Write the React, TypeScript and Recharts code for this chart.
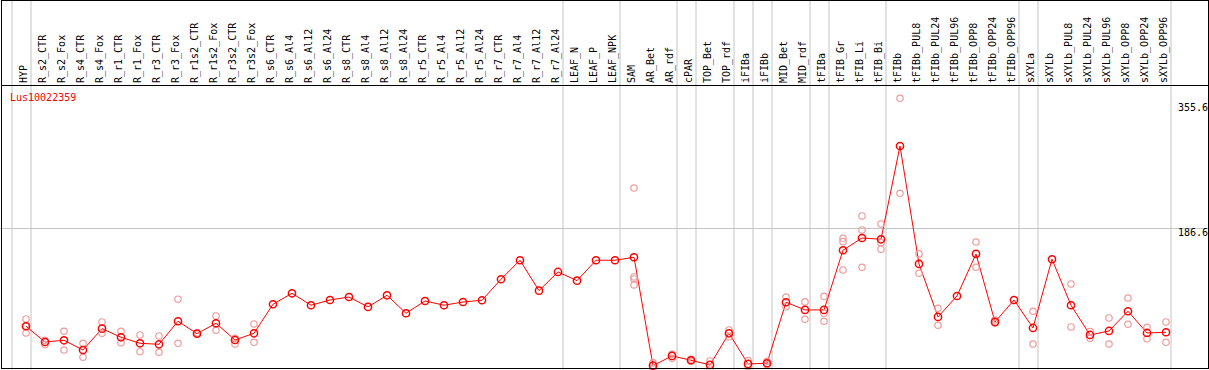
import React from 'react';
import { ComposedChart, Line, XAxis, YAxis, ReferenceLine } from 'recharts';

const geneId = 'Lus10022359';

const categories = [
  'HYP', 'R_s2_CTR', 'R_s2_Fox', 'R_s4_CTR', 'R_s4_Fox', 'R_r1_CTR', 'R_r1_Fox', 'R_r3_CTR', 'R_r3_Fox',
  'R_r1s2_CTR', 'R_r1s2_Fox', 'R_r3s2_CTR', 'R_r3s2_Fox', 'R_s6_CTR', 'R_s6_Al4', 'R_s6_Al12', 'R_s6_Al24',
  'R_s8_CTR', 'R_s8_Al4', 'R_s8_Al12', 'R_s8_Al24', 'R_r5_CTR', 'R_r5_Al4', 'R_r5_Al12', 'R_r5_Al24',
  'R_r7_CTR', 'R_r7_Al4', 'R_r7_Al12', 'R_r7_Al24', 'LEAF_N', 'LEAF_P', 'LEAF_NPK', 'SAM', 'AR_Bet', 'AR_rdf',
  'cPAR', 'TOP_Bet', 'TOP_rdf', 'iFIBa', 'iFIBb', 'MID_Bet', 'MID_rdf', 'tFIBa', 'tFIB_Gr', 'tFIB_Li', 'tFIB_Bi',
  'tFIBb', 'tFIBb_PUL8', 'tFIBb_PUL24', 'tFIBb_PUL96', 'tFIBb_OPP8', 'tFIBb_OPP24', 'tFIBb_OPP96', 'sXYLa',
  'sXYLb', 'sXYLb_PUL8', 'sXYLb_PUL24', 'sXYLb_PUL96', 'sXYLb_OPP8', 'sXYLb_OPP24', 'sXYLb_OPP96',
];

// mean expression per sample
const means = [
  59.7, 39.3, 41.5, 28.9, 56.6, 45.4, 37.6, 36.3, 66.2, 50.1, 63.6, 41.9, 50.6, 88.3, 102.5, 87,
  93.8, 97.7, 84.8, 99.9, 76.6, 92.5, 87, 91.2, 93.5, 120.7, 145.4, 105.9, 130.2, 118.9, 145.4, 145.4,
  149.3, 8.6, 21.2, 15.6, 9.5, 50.6, 10.8, 11.7, 90.9, 80.9, 80.9, 158.4, 174.3, 172.6,
  293.7, 140.6, 71.8, 99, 153.6, 65.3, 93.8, 57.5, 146.7, 87, 48.4, 53.6, 79.2, 51, 51.9,
];

// individual replicates (only those visible apart from the mean)
const replicates: number[][] = [
  [69.2, 60.1, 51], [41.5, 36.1], [53.2, 28.9], [37.6, 19.5], [65.3, 50.6], [53.2, 38.4], [48.4, 26.7],
  [47.1, 26], [94.8, 37.6], [51, 49.7], [73.1, 54.5], [44.1, 36.7], [62.7, 38.9],
  [], [], [], [], [], [], [], [], [], [], [], [], [], [], [], [], [], [], [],
  [239.2, 123.7, 121.1, 113.3], [12.5, 4.7], [23.4, 18.2], [16.9, 14.3], [14.7, 4.3], [54.9, 46.2],
  [15.1, 7.3], [14.3, 9.9], [97.7, 85.1], [91.3, 68.8], [98.6, 76.6, 66.2], [173.9, 169.5, 132.8],
  [202.9, 184.7, 136.3], [192.5, 168.2, 159.7], [355.6, 232.3], [153.6, 128.5], [83.1, 61], [],
  [169.1, 136.3], [67.9, 63.6], [], [79.2, 36.7], [], [114.6, 58.8], [52.7, 44.1], [70.5, 36.7],
  [96.4, 62.3], [58.4, 43.6], [65.3, 38.9],
];

// index of first sample of each group (separator drawn just before it)
const groupStarts = [0, 1, 29, 32, 35, 36, 38, 39, 40, 42, 43, 46, 53, 54, 61];
const yTicks = [0, 186.6, 355.6];

const data = categories.map((name, i) => {
  const row: Record<string, number | string | null> = { x: i, name, mean: means[i] };
  for (let r = 0; r < 4; r++) row[`r${r + 1}`] = replicates[i][r] ?? null;
  return row;
});

const X_DOMAIN = [-26 / 19, 1183 / 19];
const Y_DOMAIN = [-10.05, 483.2];
const FONT = '"DejaVu Sans Mono", monospace';
const GRID = '#c4c4c4';
const REP = '#ef9b9b';

const tickDy: Record<string, number> = { '0': -6.3, '186.6': 7.5, '355.6': 12.7 };

const CategoryTick = (props: any) => {
  const { x, payload } = props;
  const label = categories[payload.value];
  if (!label) return null;
  return (
    <text
      x={x + 1}
      y={83}
      transform={`rotate(-90 ${x + 1} 83)`}
      fontFamily={FONT}
      fontSize={10}
      fill="#000"
      textAnchor="start"
    >
      {label}
    </text>
  );
};

const ValueTick = (props: any) => {
  const { y, payload } = props;
  return (
    <text x={1178} y={y + (tickDy[String(payload.value)] ?? 0)} fontFamily={FONT} fontSize={10} fill="#000">
      {payload.value}
    </text>
  );
};

export default function App() {
  return (
    <div style={{ position: 'absolute', left: 0, top: 0, width: 1209, height: 370, overflow: 'hidden', background: '#fff' }}>
      <ComposedChart width={1209} height={380} data={data} margin={{ top: 0, right: 0, bottom: 0, left: 0 }}>
        <XAxis
          dataKey="x"
          type="number"
          domain={X_DOMAIN}
          allowDataOverflow
          orientation="top"
          mirror
          ticks={categories.map((_, i) => i)}
          interval={0}
          axisLine={false}
          tickLine={false}
          tick={<CategoryTick />}
        />
        <YAxis
          type="number"
          domain={Y_DOMAIN}
          allowDataOverflow
          orientation="right"
          mirror
          ticks={yTicks}
          axisLine={false}
          tickLine={false}
          tick={<ValueTick />}
        />
        {groupStarts.map((g) => (
          <ReferenceLine key={g} x={g - 14 / 19} stroke={GRID} strokeWidth={1} />
        ))}
        <ReferenceLine y={186.6} stroke={GRID} strokeWidth={1} />
        {['r1', 'r2', 'r3', 'r4'].map((k) => (
          <Line
            key={k}
            dataKey={k}
            stroke="none"
            dot={{ r: 3.2, stroke: REP, strokeWidth: 1.2, fill: 'none' }}
            activeDot={false}
            isAnimationActive={false}
          />
        ))}
        <Line
          dataKey="mean"
          stroke="#ff0000"
          strokeWidth={1}
          dot={{ r: 3.6, stroke: '#ff0000', strokeWidth: 1.5, fill: 'none' }}
          activeDot={false}
          isAnimationActive={false}
        />
      </ComposedChart>
      <div style={{ position: 'absolute', left: 1, top: 0, width: 1208, height: 369, boxSizing: 'border-box', border: '1px solid #000' }} />
      <div style={{ position: 'absolute', left: 1, top: 85, width: 1208, height: 1, background: '#000' }} />
      <svg style={{ position: 'absolute', left: 0, top: 0 }} width={200} height={110}>
        <text x={10} y={101} fontFamily={FONT} fontSize={10} fill="#ff0000">
          {geneId}
        </text>
      </svg>
    </div>
  );
}
